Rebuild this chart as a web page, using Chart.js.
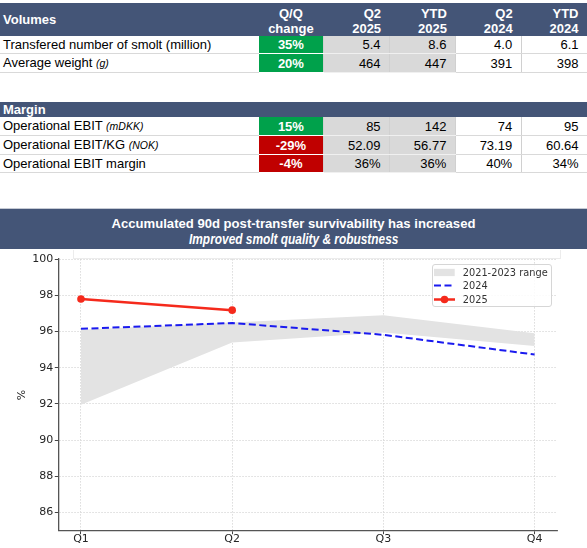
<!DOCTYPE html>
<html>
<head>
<meta charset="utf-8">
<script src="https://cdn.jsdelivr.net/npm/chart.js@4/dist/chart.umd.min.js"></script>
<style>
  body { margin: 0; width: 587px; height: 548px; position: relative; background: #fff; overflow: hidden; }
  .tbl { position: absolute; left: 0; width: 587px; }
  table { border-collapse: collapse; table-layout: fixed; width: 587px; font: 13px "Liberation Sans", Arial, sans-serif; color: #000; }
  th { background: #445577; color: #fff; font-weight: bold; padding: 0 8.5px 0 3px; text-align: right; white-space: nowrap; }
  tr.h2 th { height: 30.5px; line-height: 15px; padding-top: 3px; }
  tr.h2 th.first { text-align: left; padding-top: 0; height: 33.5px; }
  tr.h2 th.chgh { text-align: center; padding: 3px 0 0 0; }
  tr.h1 th { height: 15.5px; line-height: 15.5px; text-align: left; }
  td { height: 17px; line-height: 17px; padding: 0 8.5px 0 3px; border-bottom: 1px solid #d9d9d9; border-left: 1px solid #d0d0d0; text-align: right; white-space: nowrap; }
  td.lbl { text-align: left; border-left: none; }
  td.lbl i { font-size: 10.5px; }
  td.chg { text-align: center; color: #fff; font-weight: bold; padding: 0; border-bottom: 1px solid #fff; border-left: 1px solid #fff; }
  td.pos { background: #00a14b; }
  td.neg { background: #c00000; }
  td.g { background: #d9d9d9; border-bottom-color: #f0f0f0; }
  #title { position: absolute; left: 0; top: 208px; width: 587px; height: 41px; box-sizing: border-box;
           background: #445577; border-top: 1px solid #c5cad4; color: #fff; text-align: center;
           font-weight: bold; line-height: 15px; padding-top: 5.5px; }
  #title span { display: inline-block; white-space: nowrap; }
  #title .main { font: bold 13.1px "Liberation Sans", Arial, sans-serif; }
  #title .sub { font: italic bold 14.5px "Liberation Sans Narrow", "Arial Narrow", sans-serif; }
  #frame { position: absolute; left: 73px; top: 250px; width: 486px; height: 8px; border: 1px solid #ececec; border-top: none; }
  #chart { position: absolute; left: 0; top: 250px; }
  #legend { position: absolute; left: 431.7px; top: 264px; width: 120.6px; height: 42.7px; box-sizing: border-box;
            border: 1px solid #d6d6d6; border-radius: 3px; background: rgba(255,255,255,0.85);
            font: 9.8px "DejaVu Sans", sans-serif; color: #333; }
  #legend .row { position: absolute; left: 0; height: 13px; width: 118px; }
  #legend svg { position: absolute; left: 1.6px; top: 0; }
  #legend span { position: absolute; left: 30px; top: 0; line-height: 13px; white-space: nowrap; }
</style>
</head>
<body>
<div id="vol" class="tbl" style="top:2.5px"></div>
<div id="mar" class="tbl" style="top:101.5px"></div>
<div id="title"><span class="main">Accumulated 90d post-transfer survivability has increased</span><br><span class="sub">Improved smolt quality &amp; robustness</span></div>
<canvas id="chart" width="587" height="298"></canvas>
<div id="frame"></div>
<div id="legend"></div>
<script>
// ---- table data ----
const colHeads = [['Q/Q', 'change'], ['Q2', '2025'], ['YTD', '2025'], ['Q2', '2024'], ['YTD', '2024']];

const volLabels = ['Transfered number of smolt (million)', 'Average weight'];
const volUnits = ['', '(g)'];
const volChange = [35, 20];
const volQ2_2025 = ['5.4', '464'];
const volYtd2025 = ['8.6', '447'];
const volQ2_2024 = ['4.0', '391'];
const volYtd2024 = ['6.1', '398'];

const marLabels = ['Operational EBIT', 'Operational EBIT/KG', 'Operational EBIT margin'];
const marUnits = ['(mDKK)', '(NOK)', ''];
const marChange = [15, -29, -4];
const marQ2_2025 = ['85', '52.09', '36%'];
const marYtd2025 = ['142', '56.77', '36%'];
const marQ2_2024 = ['74', '73.19', '40%'];
const marYtd2024 = ['95', '60.64', '34%'];

// ---- chart data ----
const quarters = ['Q1', 'Q2', 'Q3', 'Q4'];
const yTicks = [86, 88, 90, 92, 94, 96, 98, 100];
const rangeLow = [91.95, 95.4, 95.95, 95.2];
const rangeHigh = [96.1, 96.5, 96.9, 95.9];
const series2024 = [96.15, 96.47, 95.82, 94.73];
const series2025 = [97.8, 97.18];
const rangeName = '2021-2023 range';
const name2024 = '2024';
const name2025 = '2025';

const RED = '#f52a1c';
const BLUE = '#1a1aef';
const BAND = '#e3e3e3';

// ---- tables ----
function buildTable(el, title, labels, units, change, cols, twoLineHead) {
  let html = '<table><colgroup><col style="width:258px">' + '<col style="width:65.8px">'.repeat(5) + '</colgroup>';
  if (twoLineHead) {
    html += '<tr class="h2"><th class="first">' + title + '</th>';
    colHeads.forEach((h, i) => {
      html += '<th class="' + (i === 0 ? 'chgh' : '') + '">' + h[0] + '<br>' + h[1] + '</th>';
    });
    html += '</tr>';
  } else {
    html += '<tr class="h1"><th colspan="6">' + title + '</th></tr>';
  }
  labels.forEach((lbl, r) => {
    const unit = units[r] ? ' <i>' + units[r] + '</i>' : '';
    const c = change[r];
    html += '<tr><td class="lbl">' + lbl + unit + '</td>';
    html += '<td class="chg ' + (c >= 0 ? 'pos' : 'neg') + '">' + c + '%</td>';
    cols.forEach((col, j) => {
      html += '<td class="' + (j < 2 ? 'g' : '') + '">' + col[r] + '</td>';
    });
    html += '</tr>';
  });
  el.innerHTML = html + '</table>';
}

buildTable(document.getElementById('vol'), 'Volumes', volLabels, volUnits, volChange,
  [volQ2_2025, volYtd2025, volQ2_2024, volYtd2024], true);
buildTable(document.getElementById('mar'), 'Margin', marLabels, marUnits, marChange,
  [marQ2_2025, marYtd2025, marQ2_2024, marYtd2024], false);

// narrow font fallback for the subtitle
function hasFont(name) {
  const c = document.createElement('canvas').getContext('2d');
  const s = 'Improved smolt quality';
  c.font = '20px monospace';
  const a = c.measureText(s).width;
  c.font = '20px "' + name + '", monospace';
  return c.measureText(s).width !== a;
}
if (!hasFont('Liberation Sans Narrow')) {
  const sub = document.querySelector('#title .sub');
  sub.style.fontFamily = '"Liberation Sans", Arial, sans-serif';
  sub.style.transform = 'scaleX(0.82)';
}

// ---- chart ----
Chart.defaults.font.family = '"DejaVu Sans", sans-serif';
const tickFont = { size: 11, lineHeight: 1.2 };
const toXY = arr => arr.map((v, i) => ({ x: i, y: v }));

const gridOpts = {
  color: '#d2d2d2',
  lineWidth: 0.8,
  drawTicks: true,
  tickLength: 3.5,
  tickColor: '#444',
  tickWidth: 1,
  tickBorderDash: []
};

const chart = new Chart(document.getElementById('chart'), {
  type: 'line',
  data: {
    datasets: [
      {
        label: name2025,
        data: toXY(series2025),
        borderColor: RED,
        backgroundColor: RED,
        borderWidth: 2.5,
        pointRadius: 3.8,
        pointBorderWidth: 0,
        pointBackgroundColor: RED,
        tension: 0,
        fill: false
      },
      {
        label: name2024,
        data: toXY(series2024),
        borderColor: BLUE,
        borderWidth: 2,
        borderDash: [7, 3.5],
        pointRadius: 0,
        tension: 0,
        fill: false
      },
      {
        label: rangeName + ' low',
        data: toXY(rangeLow),
        borderColor: 'transparent',
        borderWidth: 0,
        pointRadius: 0,
        tension: 0,
        fill: false
      },
      {
        label: rangeName,
        data: toXY(rangeHigh),
        borderColor: 'transparent',
        borderWidth: 0,
        pointRadius: 0,
        tension: 0,
        backgroundColor: BAND,
        fill: '-1'
      }
    ]
  },
  options: {
    responsive: false,
    animation: false,
    layout: { padding: { left: 0, right: 29.7, top: 9.1, bottom: 0 } },
    plugins: {
      legend: { display: false },
      tooltip: { enabled: false }
    },
    scales: {
      x: {
        type: 'linear',
        min: -0.15,
        max: 3.15,
        afterBuildTicks: s => { s.ticks = quarters.map((q, i) => ({ value: i })); },
        afterFit: s => { s.height = 17.3; },
        ticks: {
          callback: v => quarters[v],
          font: tickFont,
          color: '#262626',
          padding: -2,
          maxRotation: 0,
          autoSkip: false
        },
        grid: gridOpts,
        border: { display: true, color: '#555', width: 1.3, dash: [1.5, 1.5] }
      },
      y: {
        min: 85,
        max: 100,
        afterBuildTicks: s => { s.ticks = yTicks.map(v => ({ value: v })); },
        afterFit: s => { s.width = 58.3; },
        ticks: {
          font: tickFont,
          color: '#262626',
          padding: 1.5
        },
        title: {
          display: true,
          text: '%',
          font: tickFont,
          color: '#262626',
          padding: { top: 16, bottom: 0 }
        },
        grid: gridOpts,
        border: { display: true, color: '#555', width: 1.3, dash: [1.5, 1.5] }
      }
    }
  }
});

// ---- html legend ----
const legendEntries = [
  { text: rangeName, kind: 'band' },
  { text: name2024, kind: 'dash' },
  { text: name2025, kind: 'marker' }
];
const rowTops = [1.2, 14.2, 27.5];
const legendEl = document.getElementById('legend');
legendEntries.forEach((e, i) => {
  let g = '';
  if (e.kind === 'band') g = '<rect x="0" y="2.8" width="20.7" height="7.3" fill="' + BAND + '"/>';
  if (e.kind === 'dash') g = '<line x1="0" y1="6.5" x2="21" y2="6.5" stroke="' + BLUE + '" stroke-width="2" stroke-dasharray="7 3.5"/>';
  if (e.kind === 'marker') g = '<line x1="0" y1="6.5" x2="21" y2="6.5" stroke="' + RED + '" stroke-width="2.5"/><circle cx="10.5" cy="6.5" r="3.8" fill="' + RED + '"/>';
  legendEl.insertAdjacentHTML('beforeend',
    '<div class="row" style="top:' + rowTops[i] + 'px"><svg width="22" height="13">' + g + '</svg><span>' + e.text + '</span></div>');
});
</script>
</body>
</html>
